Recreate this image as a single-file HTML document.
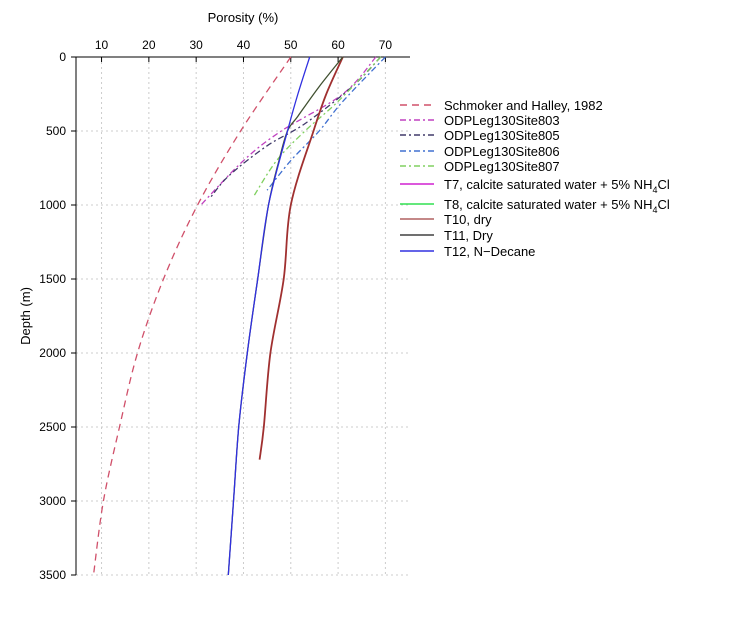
<!DOCTYPE html>
<html><head><meta charset="utf-8"><style>
body{margin:0;background:#fff;}
svg text{font-family:"Liberation Sans",sans-serif;}
</style></head><body>
<svg id="chart" width="750" height="625" xmlns="http://www.w3.org/2000/svg">
<g id="grid"></g>
<g id="axes"></g>
<g id="series"></g>
<g id="legend"></g>
<text x="243" y="22" font-size="13" text-anchor="middle">Porosity (%)</text>
<text transform="translate(30,316) rotate(-90)" font-size="13" text-anchor="middle">Depth (m)</text>
</svg>
<script>
const xTicks=[10,20,30,40,50,60,70];
const yTicks=[0,500,1000,1500,2000,2500,3000,3500];
const seriesNames=["Schmoker and Halley, 1982","ODPLeg130Site803","ODPLeg130Site805","ODPLeg130Site806","ODPLeg130Site807","T7, calcite saturated water + 5% NH4Cl","T8, calcite saturated water + 5% NH4Cl","T10, dry","T11, Dry","T12, N\u2212Decane"];
const schmokerDepth=[0,500,1000,1500,2000,2500,3000,3500];
const schmokerPor=[50,39.4,30.3,23.1,17.6,13.8,10.4,8.3];
const site803Depth=[0,250,500,700,1000];
const site803Por=[68,61,48,40,31];
const site805Depth=[0,200,450,600,800,950];
const site805Por=[69,63,53,45,37,33];
const site806Depth=[0,300,500,700,900];
const site806Por=[70,61,56,50,45];
const site807Depth=[0,300,500,700,950];
const site807Por=[69,60,53,47,42];
const t10Depth=[0,250,500,1000,1500,2000,2500,2720];
const t10Por=[61,57.5,54.8,50,48.5,45.7,44.3,43.4];
const t11Depth=[0,200,400,500,700,1000,1500,2000,2500,3000,3500];
const t11Por=[61,56,51.5,49.3,47.5,45.3,43,40.8,39,37.9,36.8];
const t12Depth=[0,250,500,1000,1500,2000,2500,3000,3500];
const t12Por=[54,51.5,49.3,45.3,43,40.8,39,37.9,36.8];

const NS="http://www.w3.org/2000/svg";
const X0=76,X1=410,Y0=57,Y1=575,PMIN=4.6,PMAX=75.2,DMAX=3500;
const xs=p=>X0+(p-PMIN)/(PMAX-PMIN)*(X1-X0);
const ys=d=>Y0+d/DMAX*(Y1-Y0);
function mk(tag,attrs,parent){const e=document.createElementNS(NS,tag);for(const k in attrs)e.setAttribute(k,attrs[k]);parent.appendChild(e);return e;}
function smooth(P){
 let s='M'+P[0][0].toFixed(1)+','+P[0][1].toFixed(1);
 for(let i=0;i<P.length-1;i++){
  const p0=P[i-1]||P[i],p1=P[i],p2=P[i+1],p3=P[i+2]||P[i+1];
  const c1=[p1[0]+(p2[0]-p0[0])/6,p1[1]+(p2[1]-p0[1])/6];
  const c2=[p2[0]-(p3[0]-p1[0])/6,p2[1]-(p3[1]-p1[1])/6];
  s+=' C'+c1[0].toFixed(1)+','+c1[1].toFixed(1)+' '+c2[0].toFixed(1)+','+c2[1].toFixed(1)+' '+p2[0].toFixed(1)+','+p2[1].toFixed(1);
 }
 return s;
}
const grid=document.getElementById('grid'),axes=document.getElementById('axes'),ser=document.getElementById('series'),leg=document.getElementById('legend');
xTicks.forEach(t=>{
 const l=mk('line',{x1:xs(t),x2:xs(t),y1:Y0,y2:Y1,stroke:'#ccc','stroke-dasharray':'2,3'},grid);
 
 
 const tk=mk('line',{x1:xs(t),x2:xs(t),y1:Y0,y2:Y0+5,stroke:'#000'},axes);
 
 
 const tx=mk('text',{x:xs(t),y:Y0-8,'font-size':12,'text-anchor':'middle'},axes);tx.textContent=t;
 
 
});
yTicks.forEach(t=>{
 const l=mk('line',{x1:X0,x2:X1,y1:ys(t),y2:ys(t),stroke:'#ccc','stroke-dasharray':'2,3'},grid);
 
 
 const tk=mk('line',{x1:X0-5,x2:X0,y1:ys(t),y2:ys(t),stroke:'#000'},axes);
 
 
 const tx=mk('text',{x:X0-10,y:ys(t)+4,'font-size':12,'text-anchor':'end'},axes);tx.textContent=t;
 
 
});
const ax1=mk('line',{x1:X0,x2:X0,y1:Y0,y2:Y1,stroke:'#000'},axes);


const ax2=mk('line',{x1:X0,x2:X1,y1:Y0,y2:Y0,stroke:'#000'},axes);



const defs=[
 {d:schmokerDepth,p:schmokerPor,c:'#d0506a',da:'7,5',n:'schmoker-line'},
 {d:site803Depth,p:site803Por,c:'#c040c0',da:'6,3,2,3',n:'site803-line'},
 {d:site805Depth,p:site805Por,c:'#403a6a',da:'6,3,2,3',n:'site805-line'},
 {d:site806Depth,p:site806Por,c:'#4070d0',da:'6,3,2,3',n:'site806-line'},
 {d:site807Depth,p:site807Por,c:'#80d060',da:'6,3,2,3',n:'site807-line'},
 null,null,
 {d:t10Depth,p:t10Por,c:'#a03030',da:'',n:'t10-line',w:1.8},
 {d:t11Depth,p:t11Por,c:'#405030',da:'',n:'t11-line'},
 {d:t12Depth,p:t12Por,c:'#3030e0',da:'',n:'t12-line'}
];
defs.forEach(s=>{if(!s)return;
 const P=s.d.map((d,i)=>[xs(s.p[i]),ys(d)]);
 const pl=mk('path',{d:smooth(P),fill:'none',stroke:s.c,'stroke-width':s.w||1.3,'stroke-dasharray':s.da},ser);
 
 
});
const legColors=['#d0506a','#c040c0','#403a6a','#4070d0','#80d060','#d020d0','#30e050','#b06060','#404040','#3030e0'];
const legDash=['7,5','6,3,2,3','6,3,2,3','6,3,2,3','6,3,2,3','','','','',''];
const legY=[105,120,135,151,166,184,204,219,235,251];
seriesNames.forEach((n,i)=>{
 const y=legY[i];
 const l=mk('line',{x1:400,x2:434,y1:y,y2:y,stroke:legColors[i],'stroke-width':1.5,'stroke-dasharray':legDash[i]},leg);
 
 
 const t=mk('text',{x:444,y:y+5,'font-size':13},leg);
 
 
 if(n.indexOf('NH4Cl')>=0){
  t.textContent=n.replace('NH4Cl','NH');
  const s=mk('tspan',{'font-size':9,dy:4},t);s.textContent='4';
  const s2=mk('tspan',{dy:-4},t);s2.textContent='Cl';
 } else t.textContent=n;
});
</script>
</body></html>
